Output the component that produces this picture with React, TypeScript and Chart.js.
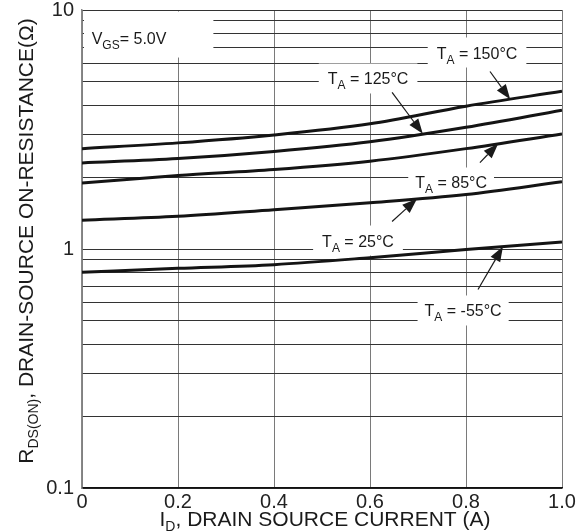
import React, { useEffect, useRef } from 'react';
import { Chart, registerables } from 'chart.js';

Chart.register(...registerables);

// Drain current (A) at which each curve is sampled
const currentA = [0, 0.2, 0.4, 0.6, 0.8, 1.0];

// On-resistance (ohm) per ambient temperature
const rds150 = [2.63, 2.78, 3.0, 3.34, 3.96, 4.57];
const rds125 = [2.29, 2.39, 2.56, 2.81, 3.23, 3.81];
const rds85 = [1.89, 2.03, 2.15, 2.33, 2.63, 3.03];
const rds25 = [1.32, 1.37, 1.46, 1.56, 1.69, 1.91];
const rdsMinus55 = [0.8, 0.83, 0.86, 0.92, 0.995, 1.07];

const temperatures = ['150', '125', '85', '25', '-55'];

// Axis ticks
const xTickValues = [0, 0.2, 0.4, 0.6, 0.8, 1.0];
const xTickLabels = ['0', '0.2', '0.4', '0.6', '0.8', '1.0'];
const yGridValues = [
  0.1, 0.2, 0.3, 0.4, 0.5, 0.6, 0.7, 0.8, 0.9,
  1, 2, 3, 4, 5, 6, 7, 8, 9, 10,
];
const yDecades = [0.1, 1, 10];
const yDecadeLabels = ['0.1', '1', '10'];

const series = [rds150, rds125, rds85, rds25, rdsMinus55];

const FONT = '"Liberation Sans", Arial, Helvetica, sans-serif';

type Run = { t: string; sub?: boolean };

// Callout layout: text centre, white box padding and arrow, in data units
type Note = {
  runs: Run[];
  x: number;
  r: number;
  padX: number;
  padTop: number;
  padBottom: number;
  arrow?: { tailX: number; tailR: number; tipX: number; curve: number };
};

const tempRuns = (t: string): Run[] => [
  { t: 'T' },
  { t: 'A', sub: true },
  { t: ` = ${t}\u00B0C` },
];

const notes: Note[] = [
  { runs: [{ t: 'V' }, { t: 'GS', sub: true }, { t: '= 5.0V' }], x: 0.098, r: 7.67, padX: 47, padTop: 26, padBottom: 20 },
  { runs: tempRuns(temperatures[0]), x: 0.823, r: 6.64, padX: 9, padTop: 15, padBottom: 15,
    arrow: { tailX: 0.85, tailR: 5.53, tipX: 0.892, curve: 0 } },
  { runs: tempRuns(temperatures[1]), x: 0.596, r: 5.17, padX: 9, padTop: 15, padBottom: 15,
    arrow: { tailX: 0.646, tailR: 4.52, tipX: 0.71, curve: 1 } },
  { runs: tempRuns(temperatures[2]), x: 0.769, r: 1.916, padX: 7, padTop: 14, padBottom: 14,
    arrow: { tailX: 0.829, tailR: 2.3, tipX: 0.867, curve: 2 } },
  { runs: tempRuns(temperatures[3]), x: 0.575, r: 1.085, padX: 9, padTop: 15, padBottom: 15,
    arrow: { tailX: 0.646, tailR: 1.303, tipX: 0.698, curve: 3 } },
  { runs: tempRuns(temperatures[4]), x: 0.794, r: 0.553, padX: 7, padTop: 15, padBottom: 15,
    arrow: { tailX: 0.825, tailR: 0.677, tipX: 0.877, curve: 4 } },
];

const NOTE_SIZE = 16;
const NOTE_SUB = 12;
const NOTE_DROP = 5;

function runsWidth(ctx: CanvasRenderingContext2D, runs: Run[], size: number, subSize: number) {
  let w = 0;
  for (const r of runs) {
    ctx.font = `${r.sub ? subSize : size}px ${FONT}`;
    w += ctx.measureText(r.t).width;
  }
  return w;
}

// Draws text with subscripts, horizontally centred on x, baseline at y
function drawRuns(
  ctx: CanvasRenderingContext2D,
  runs: Run[],
  x: number,
  y: number,
  size: number,
  subSize: number,
  drop: number,
) {
  const w = runsWidth(ctx, runs, size, subSize);
  let cx = x - w / 2;
  ctx.textAlign = 'left';
  ctx.textBaseline = 'alphabetic';
  for (const r of runs) {
    ctx.font = `${r.sub ? subSize : size}px ${FONT}`;
    ctx.fillText(r.t, cx, r.sub ? y + drop : y);
    cx += ctx.measureText(r.t).width;
  }
}

// Value of a curve at x, interpolated in log space between samples
function curveAt(vals: number[], x: number) {
  for (let i = 0; i < currentA.length - 1; i++) {
    const x0 = currentA[i];
    const x1 = currentA[i + 1];
    if (x >= x0 && x <= x1) {
      const f = (x - x0) / (x1 - x0);
      const l = Math.log10(vals[i]) * (1 - f) + Math.log10(vals[i + 1]) * f;
      return Math.pow(10, l);
    }
  }
  return vals[vals.length - 1];
}

const notesPlugin = {
  id: 'curveNotes',
  beforeDatasetsDraw(chart: any) {
    const { ctx, scales } = chart;
    const xs = scales.x;
    const ys = scales.y;
    ctx.save();
    ctx.fillStyle = '#ffffff';
    for (const n of notes) {
      const cx = xs.getPixelForValue(n.x);
      const cy = ys.getPixelForValue(n.r);
      const w = runsWidth(ctx, n.runs, NOTE_SIZE, NOTE_SUB);
      let left = cx - w / 2 - n.padX;
      const right = cx + w / 2 + n.padX;
      left = Math.max(left, chart.chartArea.left + 2);
      ctx.fillRect(left, cy - n.padTop, right - left, n.padTop + n.padBottom);
    }
    ctx.restore();
  },
  afterDatasetsDraw(chart: any) {
    const { ctx, scales } = chart;
    const xs = scales.x;
    const ys = scales.y;
    ctx.save();
    ctx.fillStyle = '#1a1a1a';
    ctx.strokeStyle = '#1a1a1a';
    for (const n of notes) {
      const cx = xs.getPixelForValue(n.x);
      const cy = ys.getPixelForValue(n.r);
      drawRuns(ctx, n.runs, cx, cy + 6, NOTE_SIZE, NOTE_SUB, NOTE_DROP);
      if (n.arrow) {
        const a = n.arrow;
        const tx = xs.getPixelForValue(a.tailX);
        const ty = ys.getPixelForValue(a.tailR);
        const hx = xs.getPixelForValue(a.tipX);
        const hy = ys.getPixelForValue(curveAt(series[a.curve], a.tipX));
        const ang = Math.atan2(hy - ty, hx - tx);
        const len = 15;
        const half = 5.5;
        const bx = hx - Math.cos(ang) * len;
        const by = hy - Math.sin(ang) * len;
        ctx.lineWidth = 1.2;
        ctx.beginPath();
        ctx.moveTo(tx, ty);
        ctx.lineTo(bx, by);
        ctx.stroke();
        ctx.beginPath();
        ctx.moveTo(hx, hy);
        ctx.lineTo(bx + Math.sin(ang) * half, by - Math.cos(ang) * half);
        ctx.lineTo(bx - Math.sin(ang) * half, by + Math.cos(ang) * half);
        ctx.closePath();
        ctx.fill();
      }
    }
    ctx.restore();
  },
  afterDraw(chart: any) {
    const { ctx, chartArea } = chart;
    ctx.save();
    ctx.fillStyle = '#1a1a1a';
    // x-axis title
    drawRuns(
      ctx,
      [{ t: 'I' }, { t: 'D', sub: true }, { t: ', DRAIN SOURCE CURRENT (A)' }],
      (chartArea.left + chartArea.right) / 2 + 3,
      526,
      21,
      14,
      5,
    );
    // y-axis title, rotated
    ctx.translate(33, 241);
    ctx.rotate(-Math.PI / 2);
    drawRuns(
      ctx,
      [{ t: 'R' }, { t: 'DS(ON)', sub: true }, { t: ', DRAIN-SOURCE ON-RESISTANCE(\u03A9)' }],
      0,
      0,
      21,
      14,
      5,
    );
    ctx.restore();
  },
};

export default function App() {
  const canvasRef = useRef<HTMLCanvasElement | null>(null);

  useEffect(() => {
    const canvas = canvasRef.current;
    if (!canvas) return;
    const tickFont = { family: FONT, size: 20, lineHeight: 1 };
    const chart = new Chart(canvas, {
      type: 'line',
      data: {
        datasets: series.map((vals) => ({
          data: currentA.map((x, i) => ({ x, y: vals[i] })),
          borderColor: '#141414',
          borderWidth: 3,
          pointRadius: 0,
          fill: false,
          cubicInterpolationMode: 'monotone' as const,
        })),
      },
      options: {
        animation: false,
        responsive: false,
        maintainAspectRatio: false,
        devicePixelRatio: 1,
        layout: { padding: { top: 10, right: 17, left: 0, bottom: 0 } },
        plugins: {
          legend: { display: false },
          tooltip: { enabled: false },
        },
        scales: {
          x: {
            type: 'linear',
            min: 0,
            max: 1,
            afterBuildTicks: (s: any) => {
              s.ticks = xTickValues.map((v) => ({ value: v }));
            },
            afterFit: (s: any) => {
              s.height = 43;
              s.paddingLeft = 0;
              s.paddingRight = 0;
            },
            ticks: {
              callback: (_v: any, i: number) => xTickLabels[i],
              font: tickFont,
              color: '#222',
              padding: 4,
              maxRotation: 0,
              autoSkip: false,
            },
            grid: { color: '#7a7a7a', lineWidth: 1, drawTicks: false },
            border: { color: '#111', width: 1.5 },
          },
          y: {
            type: 'logarithmic',
            min: 0.1,
            max: 10,
            afterBuildTicks: (s: any) => {
              s.ticks = yGridValues.map((v) => ({ value: v }));
            },
            afterFit: (s: any) => {
              s.width = 82;
              s.paddingTop = 0;
              s.paddingBottom = 0;
            },
            ticks: {
              callback: (v: any) => {
                const k = yDecades.findIndex((d) => Math.abs(d - Number(v)) < 1e-9);
                return k >= 0 ? yDecadeLabels[k] : '';
              },
              font: tickFont,
              color: '#222',
              padding: 8,
              autoSkip: false,
            },
            grid: { color: '#333', lineWidth: 1, drawTicks: false },
            border: { color: '#888', width: 1.5 },
          },
        },
      },
      plugins: [notesPlugin],
    } as any);
    return () => chart.destroy();
  }, []);

  return (
    <div style={{ position: 'absolute', left: 0, top: 0, width: 579, height: 531, background: '#fff' }}>
      <canvas ref={canvasRef} width={579} height={531} style={{ display: 'block' }} />
    </div>
  );
}
